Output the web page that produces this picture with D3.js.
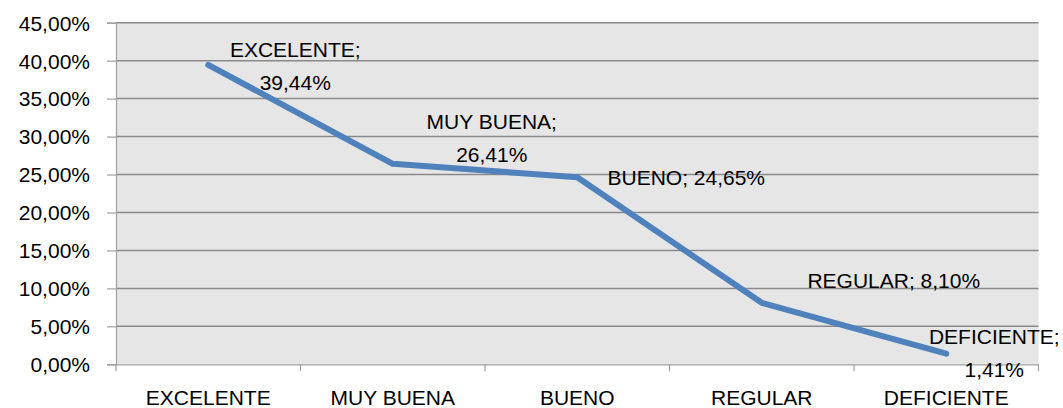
<!DOCTYPE html>
<html>
<head>
<meta charset="utf-8">
<script src="https://cdn.jsdelivr.net/npm/d3@7"></script>
<style>
  body { margin: 0; background: #fff; }
  text { font-family: "Liberation Sans", Arial, sans-serif; fill: #000; }
</style>
</head>
<body>
<div id="chart"></div>
<script>
// data
const categories = ["EXCELENTE", "MUY BUENA", "BUENO", "REGULAR", "DEFICIENTE"];
const values = [0.3944, 0.2641, 0.2465, 0.0810, 0.0141];
const yTicks = [0, 0.05, 0.10, 0.15, 0.20, 0.25, 0.30, 0.35, 0.40, 0.45];

// label placement (offsets from each point) and wrapping
const labelDx = [87, 99, 109, 132, 48];
const labelDy = [1, -26, 0, -22, 0];
const labelWrap = [true, true, false, false, true];

var width = 1063, height = 408;
var margin = {top: 22.7, right: 24.5, bottom: 43.7, left: 116};

var locale = d3.formatLocale({decimal: ",", thousands: ".", grouping: [3], currency: ["", "€"]});
var pct = locale.format(".2%");

var svg = d3.select("#chart")
  .append("svg")
  .attr("width", width)
  .attr("height", height);

var x = d3.scaleBand()
  .domain(categories)
  .range([margin.left, width - margin.right]);

var y = d3.scaleLinear()
  .domain([0, 0.45])
  .range([height - margin.bottom, margin.top]);

// plot background
svg.append("rect")
  .attr("x", x.range()[0])
  .attr("y", y(0.45))
  .attr("width", x.range()[1] - x.range()[0])
  .attr("height", y(0) - y(0.45))
  .attr("fill", "#e6e6e6");

// gridlines
svg.append("g")
  .selectAll("line")
  .data(yTicks.slice(1))
  .enter()
  .append("line")
  .attr("x1", x.range()[0])
  .attr("x2", x.range()[1])
  .attr("y1", d => y(d))
  .attr("y2", d => y(d))
  .attr("stroke", "#8a8a8a")
  .attr("stroke-width", 1.5);

// y axis
var yAxis = svg.append("g")
  .attr("transform", "translate(" + margin.left + ",0)")
  .call(d3.axisLeft(y).tickValues(yTicks).tickFormat(pct).tickSize(9).tickPadding(17));
yAxis.select(".domain").attr("stroke", "#a0a0a0").attr("stroke-width", 1.2);
yAxis.selectAll(".tick line").attr("stroke", "#a0a0a0").attr("stroke-width", 1.2);
yAxis.selectAll("text")
  .style("font-size", "21px")
  .style("font-family", "'Liberation Sans', Arial, sans-serif")
  .attr("fill", "#000")
  .attr("dy", "0.35em");

// x axis
var xAxis = svg.append("g")
  .attr("transform", "translate(0," + y(0) + ")")
  .call(d3.axisBottom(x).tickSize(0).tickPadding(33));
xAxis.select(".domain").attr("stroke", "#a0a0a0").attr("stroke-width", 1.2);
xAxis.selectAll("text")
  .style("font-size", "21px")
  .style("font-family", "'Liberation Sans', Arial, sans-serif")
  .attr("fill", "#000")
  .attr("dy", "0.35em");

// category boundary ticks
var bounds = categories.map(c => x(c)).concat([x.range()[1]]);
svg.append("g")
  .selectAll("line")
  .data(bounds)
  .enter()
  .append("line")
  .attr("x1", d => d)
  .attr("x2", d => d)
  .attr("y1", y(0))
  .attr("y2", y(0) + 7)
  .attr("stroke", "#a0a0a0")
  .attr("stroke-width", 1.2);

// line
var cx = c => x(c) + x.bandwidth() / 2;
var line = d3.line()
  .x((d, i) => cx(categories[i]))
  .y(d => y(d));

svg.append("path")
  .datum(values)
  .attr("d", line)
  .attr("fill", "none")
  .attr("stroke", "#4f81bd")
  .attr("stroke-width", 6)
  .attr("stroke-linecap", "round")
  .attr("stroke-linejoin", "round");

// data labels
var lineGap = 33;
categories.forEach(function(c, i) {
  var lx = cx(c) + labelDx[i];
  var ly = y(values[i]) + labelDy[i];
  var t = svg.append("text")
    .attr("text-anchor", "middle")
    .style("font-size", "21px");
  if (labelWrap[i]) {
    t.append("tspan").attr("x", lx).attr("y", ly - lineGap / 2).attr("dy", "0.35em").text(c + ";");
    t.append("tspan").attr("x", lx).attr("y", ly + lineGap / 2).attr("dy", "0.35em").text(pct(values[i]));
  } else {
    t.attr("x", lx).attr("y", ly).attr("dy", "0.35em").text(c + "; " + pct(values[i]));
  }
});
</script>
</body>
</html>
